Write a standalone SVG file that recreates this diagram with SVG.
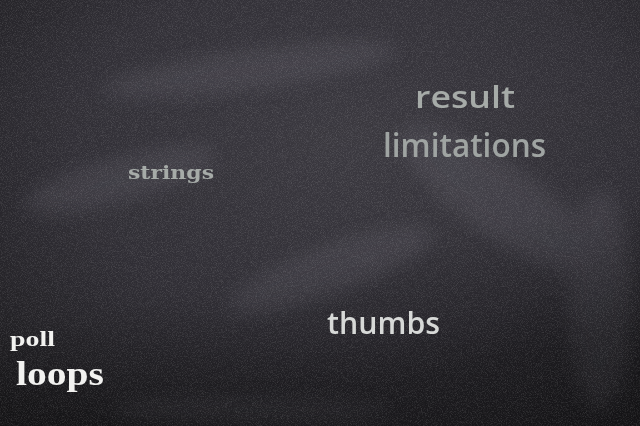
<svg xmlns="http://www.w3.org/2000/svg" width="640" height="426" viewBox="0 0 640 426">
  <defs>
    <radialGradient id="bg" cx="0.55" cy="0.35" r="0.8">
      <stop offset="0" stop-color="#3e3c43"/>
      <stop offset="0.55" stop-color="#333138"/>
      <stop offset="1" stop-color="#1d1c1f"/>
    </radialGradient>
    <linearGradient id="shade" x1="0" y1="0" x2="0.3" y2="1">
      <stop offset="0" stop-color="#000" stop-opacity="0"/>
      <stop offset="0.7" stop-color="#000" stop-opacity="0.05"/>
      <stop offset="1" stop-color="#000" stop-opacity="0.35"/>
    </linearGradient>
    <filter id="noise" x="0" y="0" width="100%" height="100%">
      <feTurbulence type="fractalNoise" baseFrequency="1.2" numOctaves="2" seed="3" result="n"/>
      <feColorMatrix type="matrix" values="0 0 0 0 1  0 0 0 0 1  0 0 0 0 1  0 0 0 1.4 -0.6"/>
    </filter>
    <filter id="smudge" x="-50%" y="-50%" width="200%" height="200%">
      <feGaussianBlur stdDeviation="9"/>
    </filter>
    <style>
      .sans { font-family: "Open Sans", Lato, "DejaVu Sans", sans-serif; font-weight: 600; }
      .slab { font-family: "DejaVu Serif", "Liberation Serif", serif; font-weight: bold; }
      .serif { font-family: "Liberation Serif", "DejaVu Serif", serif; font-weight: bold; }
      .grey { fill: #a6aba8; }
    </style>
  </defs>

  <rect width="640" height="426" fill="url(#bg)"/>
  <g filter="url(#smudge)" fill="#8e8b97" opacity="0.16">
    <ellipse cx="250" cy="70" rx="150" ry="20" transform="rotate(-8 250 70)"/>
    <ellipse cx="500" cy="200" rx="120" ry="36" transform="rotate(35 500 200)"/>
    <ellipse cx="120" cy="180" rx="100" ry="22" transform="rotate(-15 120 180)"/>
    <ellipse cx="600" cy="300" rx="32" ry="110"/>
    <ellipse cx="330" cy="270" rx="110" ry="25" transform="rotate(-20 330 270)"/>
    <ellipse cx="250" cy="410" rx="140" ry="12"/>
  </g>
  <rect width="640" height="426" fill="url(#shade)"/>
  <rect width="640" height="426" filter="url(#noise)" opacity="0.22"/>

  <g id="result"><text class="sans grey" x="415" y="108" font-size="30" font-weight="700" textLength="100" lengthAdjust="spacingAndGlyphs">result</text></g>
  <g id="limitations"><text class="sans" fill="#9fa4a2" x="383" y="157" font-size="33" textLength="163" lengthAdjust="spacingAndGlyphs">limitations</text></g>
  <g id="strings"><text class="slab grey" x="128" y="179" font-size="19" textLength="86" lengthAdjust="spacingAndGlyphs">strings</text></g>
  <g id="thumbs"><text class="sans" fill="#d7d9d7" x="327" y="334" font-size="31" font-weight="500" textLength="113" lengthAdjust="spacingAndGlyphs">thumbs</text></g>
  <g id="poll"><text class="serif" fill="#f2f2f0" x="10" y="346" font-size="22" textLength="45" lengthAdjust="spacingAndGlyphs">poll</text></g>
  <g id="loops"><text class="serif" fill="#f2f2f0" x="16" y="385" font-size="34" textLength="88" lengthAdjust="spacingAndGlyphs">loops</text></g>
</svg>
